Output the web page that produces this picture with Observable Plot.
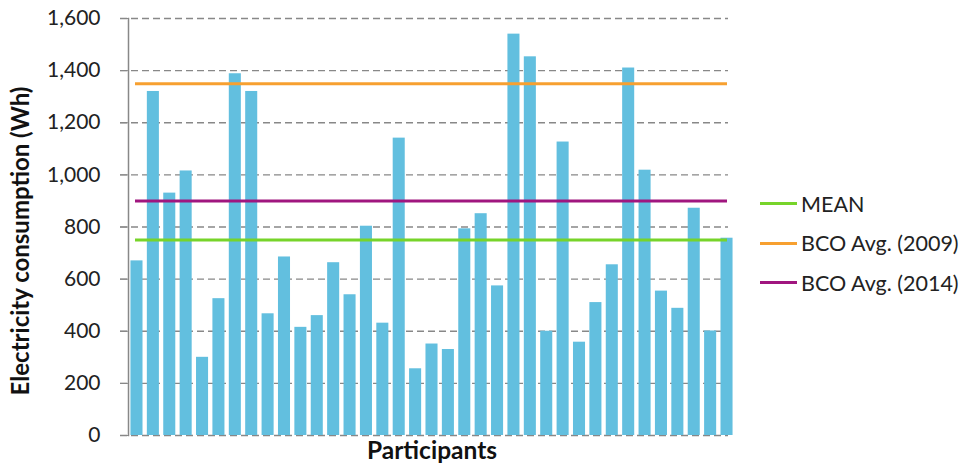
<!DOCTYPE html>
<html>
<head>
<meta charset="utf-8">
<script src="https://cdn.jsdelivr.net/npm/d3@7"></script>
<script src="https://cdn.jsdelivr.net/npm/@observablehq/plot@0.6"></script>
<style>
  html, body { margin: 0; padding: 0; background: #fff; }
  #wrap { position: relative; width: 963px; height: 472px; font-family: Lato, "Open Sans", sans-serif; }
  #legend { position: absolute; left: 760px; top: 184px; }
  .item { display: flex; align-items: center; height: 39.5px; font-size: 21.5px; color: #222; }
  .swatch { width: 37px; height: 3px; margin-right: 4px; }
</style>
</head>
<body>
<div id="wrap"></div>
<script>
const participants = Array.from({length: 37}, (_, i) => `P${i + 1}`);
const consumption = [670, 1320, 930, 1015, 300, 525, 1388, 1320, 467, 685,
  415, 460, 663, 540, 803, 431, 1141, 256, 351, 330,
  793, 851, 574, 1540, 1453, 400, 1126, 358, 510, 655,
  1410, 1018, 554, 488, 872, 401, 757];
const refNames = ["MEAN", "BCO Avg. (2009)", "BCO Avg. (2014)"];
const refValues = [750, 1350, 900];
const refColors = ["#77D42A", "#F7A030", "#A0167F"];
const yTicks = [0, 200, 400, 600, 800, 1000, 1200, 1400, 1600];
const yTitle = "Electricity consumption (Wh)";
const xTitle = "Participants";

const bars = participants.map((p, i) => ({participant: p, value: consumption[i]}));
const refs = refNames.map((n, i) => ({name: n, value: refValues[i], color: refColors[i]}));

const chart = Plot.plot({
  width: 963,
  height: 472,
  marginLeft: 128,
  marginRight: 228,
  marginTop: 18,
  marginBottom: 37,
  style: {fontFamily: "Lato, 'Open Sans', sans-serif", fontSize: "21px", color: "#222", background: "#fff"},
  x: {domain: participants, paddingInner: 0.265, paddingOuter: 0.15, round: false, axis: null},
  y: {domain: [0, 1600], axis: null},
  marks: [
    Plot.ruleY(yTicks, {stroke: "#888", strokeWidth: 1.3, strokeDasharray: "7,4", insetLeft: -8, insetRight: 7}),
    Plot.barY(bars, {x: "participant", y: "value", fill: "#62BFDF"}),
    Plot.ruleY(refs, {y: "value", stroke: "color", strokeWidth: 3, insetLeft: 7, insetRight: 8}),
    Plot.frame({anchor: "left", stroke: "#888", strokeWidth: 1.5}),
    Plot.axisY({ticks: yTicks, tickFormat: d3.format(","), tickSize: 8, tickPadding: 20, stroke: "#888", fontSize: 21, label: null}),
    Plot.text([yTitle], {frameAnchor: "left", textAnchor: "middle", rotate: -90, dx: -107, dy: 14, fontWeight: "bold", fontSize: 24, fill: "#111"}),
    Plot.text([xTitle], {frameAnchor: "bottom", dy: 23, fontWeight: "bold", fontSize: 24.5, fill: "#111"})
  ]
});
const wrap = document.getElementById("wrap");
wrap.appendChild(chart);

const legend = document.createElement("div");
legend.id = "legend";
for (const r of refs) {
  const item = document.createElement("div");
  item.className = "item";
  const sw = document.createElement("span");
  sw.className = "swatch";
  sw.style.background = r.color;
  const t = document.createElement("span");
  t.textContent = r.name;
  item.appendChild(sw);
  item.appendChild(t);
  legend.appendChild(item);
}
wrap.appendChild(legend);
</script>
</body>
</html>
